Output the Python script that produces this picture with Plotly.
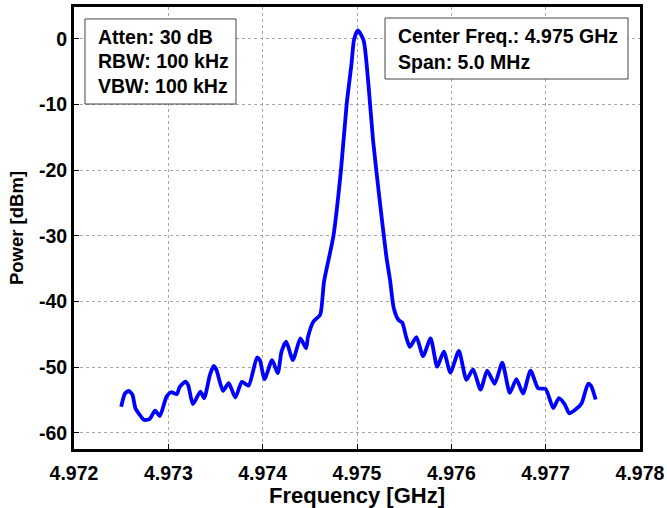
import plotly.graph_objects as go

# Spectrum trace: frequency in GHz, power in dBm
freq_ghz = [
    4.97250, 4.97254, 4.97258, 4.97262, 4.97265, 4.97270, 4.97274, 4.97280,
    4.97286, 4.97291, 4.97298, 4.97303, 4.97309, 4.97312, 4.97318, 4.97321,
    4.97326, 4.97334, 4.97338, 4.97344, 4.97348, 4.97351, 4.97358, 4.97364,
    4.97371, 4.97378, 4.97385, 4.97394, 4.97397, 4.97402, 4.97410, 4.97416,
    4.97420, 4.97425, 4.97432, 4.97440, 4.97446, 4.97448, 4.97454, 4.97461,
    4.97465, 4.97475, 4.97483, 4.97489, 4.97494, 4.97497, 4.97501,
    4.97507, 4.97512, 4.97517, 4.97524, 4.97531, 4.97535, 4.97539, 4.97544,
    4.97548, 4.97552, 4.97556, 4.97563, 4.97570, 4.97578, 4.97585, 4.97592,
    4.97599, 4.97608, 4.97616, 4.97623, 4.97631, 4.97638, 4.97646, 4.97654,
    4.97662, 4.97669, 4.97676, 4.97684, 4.97692, 4.97700, 4.97708, 4.97714,
    4.97720, 4.97725, 4.97731, 4.97738, 4.97745, 4.97748, 4.97753,
]
power_dbm = [
    -56.0, -54.0, -53.6, -54.2, -56.2, -57.3, -58.0, -57.9,
    -56.6, -57.4, -54.5, -53.8, -54.1, -53.0, -52.2, -52.7,
    -55.6, -53.7, -54.7, -51.2, -49.8, -50.4, -53.6, -52.4,
    -54.6, -52.2, -52.8, -48.5, -48.9, -51.8, -48.9, -50.9,
    -47.6, -46.1, -48.9, -45.6, -47.1, -45.4, -43.0, -42.0,
    -37.0, -30.0, -20.0, -10.0, -4.0, 0.0, 1.3,
    -0.2, -6.7, -15.4, -24.5, -33.0, -36.7, -41.0, -42.8,
    -43.2, -45.3, -46.9, -45.4, -48.3, -45.6, -49.9, -47.6,
    -50.8, -47.5, -51.9, -50.3, -53.4, -50.5, -52.5, -49.3,
    -53.9, -51.8, -54.0, -50.5, -53.2, -53.3, -56.2, -54.7,
    -55.6, -57.0, -56.5, -55.5, -52.5, -52.8, -54.9,
]

x_ticks = [4.972, 4.973, 4.974, 4.975, 4.976, 4.977, 4.978]
y_ticks = [-60, -50, -40, -30, -20, -10, 0]

settings_lines = ["Atten: 30 dB", "RBW: 100 kHz", "VBW: 100 kHz"]
sweep_lines = ["Center Freq.: 4.975 GHz", "Span: 5.0 MHz"]

FONT = "Liberation Sans"

fig = go.Figure(
    go.Scatter(
        x=freq_ghz,
        y=power_dbm,
        mode="lines",
        line=dict(color="#0000ff", width=3.8, shape="spline", smoothing=0.6),
        showlegend=False,
    )
)

axis_common = dict(
    showline=True,
    linecolor="black",
    linewidth=2.8,
    mirror=True,
    showgrid=True,
    gridcolor="#a8a8a8",
    griddash="dot",
    gridwidth=1,
    zeroline=False,
    ticks="inside",
    ticklen=5,
    tickcolor="black",
    tickfont=dict(family=FONT, size=19.5, color="black", weight="bold"),
)

fig.update_xaxes(
    range=[4.972, 4.978],
    tickvals=x_ticks,
    ticktext=[f"{v:.3f}" for v in x_ticks],
    ticklabelstandoff=5,
    title=dict(text="<b>Frequency [GHz]</b>",
               font=dict(family=FONT, size=22, color="black"), standoff=9),
    **axis_common,
)
fig.update_yaxes(
    range=[-62.44, 4.87],
    tickvals=y_ticks,
    ticktext=[str(v) for v in y_ticks],
    ticklabelstandoff=0,
    title=dict(text="<b>Power [dBm]</b>",
               font=dict(family=FONT, size=18.5, color="black"),
               standoff=11),
    **axis_common,
)

# Instrument settings boxes (left: attenuation/bandwidths, right: sweep)
shapes = [
    dict(type="rect", xref="paper", yref="paper",
         x0=0.0194, x1=0.2862, y0=0.7805, y1=0.9729,
         line=dict(color="#444444", width=1), fillcolor="white", layer="above"),
    dict(type="rect", xref="paper", yref="paper",
         x0=0.5495, x1=0.9788, y0=0.8371, y1=0.9751,
         line=dict(color="#444444", width=1), fillcolor="white", layer="above"),
]

annotations = []
for text, yp in zip(settings_lines, [0.9321, 0.8767, 0.8213]):
    annotations.append(dict(
        text=f"<b>{text}</b>", xref="paper", yref="paper", x=0.0389, y=yp,
        xanchor="left", yanchor="middle", showarrow=False,
        font=dict(family=FONT, size=19.5, color="black"),
    ))
for text, yp in zip(sweep_lines, [0.9344, 0.8756]):
    annotations.append(dict(
        text=f"<b>{text}</b>", xref="paper", yref="paper", x=0.5689, y=yp,
        xanchor="left", yanchor="middle", showarrow=False,
        font=dict(family=FONT, size=19.5, color="black"),
    ))

fig.update_layout(
    width=667,
    height=508,
    margin=dict(l=74, r=27, t=7, b=59, autoexpand=False),
    paper_bgcolor="white",
    plot_bgcolor="white",
    shapes=shapes,
    annotations=annotations,
)

fig.write_html("out.html")
